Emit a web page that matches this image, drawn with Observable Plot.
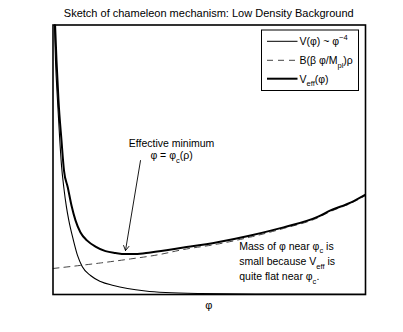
<!DOCTYPE html>
<html><head><meta charset="utf-8">
<script src="https://cdn.jsdelivr.net/npm/d3@7"></script>
<script src="https://cdn.jsdelivr.net/npm/@observablehq/plot@0.6"></script>
<style>body{margin:0;background:#fff} svg{font-family:"Liberation Sans",Arial,sans-serif}</style>
</head><body><div id="chart"></div>
<script>
// V(phi) ~ phi^-4 (thin)
const vPhi = [0.032,0.08,0.144,0.208,0.272,0.346,0.432,0.506,0.656,0.784,0.934,1.20,1.52,1.936,2.384,2.96,3.60,4.72,6.64,10];
const vVal = [10.54,8.68,7.20,5.90,4.79,3.97,3.23,2.75,2.00,1.45,1.04,0.705,0.482,0.334,0.223,0.130,0.074,0.037,0.019,0.01];
// B(beta phi/Mpl) rho (dashed)
const bPhi = [0,0.88,1.52,2.48,3.344,4.18,5.264,6.32,7.376,8.464,8.88,9.52,10];
const bVal = [0.965,1.08,1.17,1.32,1.47,1.67,1.87,2.13,2.45,2.84,3.08,3.38,3.67];
// V_eff (thick)
const ePhi = [0.048,0.112,0.176,0.272,0.352,0.474,0.592,0.72,0.88,1.094,1.36,1.68,2.00,2.32,2.64,3.12,4.18,5.264,6.32,7.376,8.464,8.88,9.52,10];
const eVal = [10.54,8.68,7.20,5.71,4.60,3.97,3.30,2.75,2.30,2.00,1.78,1.61,1.54,1.50,1.50,1.56,1.74,1.94,2.19,2.49,2.88,3.12,3.41,3.71];
// annotation arrow (from text to minimum)
const arrowFrom = [2.8, 4.97];
const arrowTo = [2.32, 1.63];
// annotation texts
const titleText = "Sketch of chameleon mechanism: Low Density Background";
const xLabel = "φ";
const minLabel1 = [{t:"Effective minimum"}];
const minLabel2 = [{t:"φ = φ"},{t:"c",sub:true},{t:"(ρ)"}];
const minPos = [3.81, 5.60, 5.14];
const massLines = [
  [{t:"Mass of φ near φ"},{t:"c",sub:true},{t:" is"}],
  [{t:"small because V"},{t:"eff",sub:true},{t:" is"}],
  [{t:"quite flat near φ"},{t:"c",sub:true},{t:"."}]
];
const massPos = [5.976, [1.78, 1.20, 0.66]];
const legendItems = [
  {parts:[{t:"V(φ) ~ φ"},{t:"−4",sup:true}], dash:null, w:1},
  {parts:[{t:"B(β φ/M"},{t:"pl",sub:true},{t:")ρ"}], dash:"6,5", w:1, color:"#444"},
  {parts:[{t:"V"},{t:"eff",sub:true},{t:"(φ)"}], dash:null, w:2}
];

const toRows = (xs, ys) => xs.map((x,i)=>({x, y: ys[i]}));

const plot = Plot.plot({
  width: 403, height: 332,
  marginLeft: 52.5, marginRight: 38, marginTop: 24.5, marginBottom: 38,
  x: {domain:[0,10], axis:null},
  y: {domain:[0,10], axis:null},
  style: {fontFamily:'"Liberation Sans",Arial,sans-serif', fontSize:"10.5px", background:"white"},
  marks: [
    Plot.line(toRows(bPhi,bVal), {x:"x", y:"y", stroke:"#444", strokeWidth:1, strokeDasharray:"6,5", curve:"monotone-x", clip:true}),
    Plot.line(toRows(vPhi,vVal), {x:"x", y:"y", stroke:"black", strokeWidth:1.1, curve:"monotone-x", clip:true}),
    Plot.line(toRows(ePhi,eVal), {x:"x", y:"y", stroke:"black", strokeWidth:2, curve:"monotone-x", clip:true}),
    Plot.arrow([{x1:arrowFrom[0], y1:arrowFrom[1], x2:arrowTo[0], y2:arrowTo[1]}], {x1:"x1", y1:"y1", x2:"x2", y2:"y2", stroke:"black", strokeWidth:0.9, headLength:9, bend:0}),
    Plot.frame({stroke:"black", strokeWidth:1.6})
  ]
});
document.getElementById("chart").appendChild(plot);

const sx = plot.scale("x").apply, sy = plot.scale("y").apply;
const svg = d3.select(plot);

function rich(g, x, y, parts, anchor, size) {
  const t = g.append("text").attr("x", x).attr("y", y).attr("text-anchor", anchor)
    .attr("font-size", size).attr("fill", "black");
  let shift = 0;
  for (const p of parts) {
    const ts = t.append("tspan").text(p.t);
    let target = 0;
    if (p.sub) { target = 3.5; ts.attr("font-size", size*0.72); }
    if (p.sup) { target = -5; ts.attr("font-size", size*0.72); }
    if (target !== shift) { ts.attr("dy", target - shift); shift = target; }
  }
  return t;
}

const g = svg.append("g");
// title
g.append("text").attr("x", (sx(0)+sx(10))/2).attr("y", 16.7).attr("text-anchor","middle")
  .attr("font-size", 11).text(titleText);
// x label
g.append("text").attr("x", (sx(0)+sx(10))/2).attr("y", 309).attr("text-anchor","middle")
  .attr("font-size", 11).text(xLabel);
// minimum labels
rich(g, sx(minPos[0]), sy(minPos[1])+3.8, minLabel1, "middle", 10.5);
rich(g, sx(minPos[0]), sy(minPos[2])+3.8, minLabel2, "middle", 10.5);
// mass text
massLines.forEach((parts,i)=> rich(g, sx(massPos[0]), sy(massPos[1][i])+3.8, parts, "start", 10.5));

// legend
const lg = svg.append("g");
lg.append("rect").attr("x", 261.5).attr("y", 30).attr("width", 97).attr("height", 60.5)
  .attr("fill","white").attr("stroke","black").attr("stroke-width",1);
const rowY = [41.3, 60.3, 78.7];
legendItems.forEach((it,i)=>{
  lg.append("line").attr("x1",267).attr("x2",297.5).attr("y1",rowY[i]).attr("y2",rowY[i])
    .attr("stroke", it.color || "black").attr("stroke-width", it.w).attr("stroke-dasharray", it.dash);
  rich(lg, 299.5, rowY[i]+3.8, it.parts, "start", 10.5);
});
</script>
</body></html>
